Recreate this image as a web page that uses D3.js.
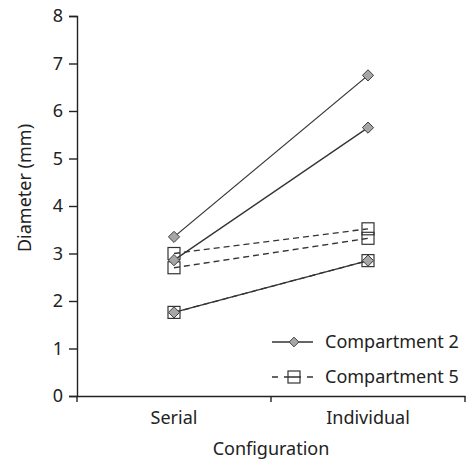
<!DOCTYPE html>
<html>
<head>
<meta charset="utf-8">
<script src="https://cdn.jsdelivr.net/npm/d3@7"></script>
<style>
  body { margin: 0; background: #fff; }
  text { font-family: "Noto Sans", "Open Sans", sans-serif; fill: #222; }
</style>
</head>
<body>
<div id="chart"></div>
<script>
// Chart data
var categories = ["Serial", "Individual"];
var yTicks = [0, 1, 2, 3, 4, 5, 6, 7, 8];
var comp2Series = [
    [3.35, 6.75],
    [2.86, 5.65],
    [1.76, 2.85]
];
var comp5Series = [
    [3.0, 3.52],
    [2.7, 3.32],
    [1.76, 2.85]
];
var legendNames = ["Compartment 2", "Compartment 5"];

var svgWidth = 468;
var svgHeight = 460;

var margin = { top: 16, right: 3, bottom: 64, left: 77 };
var width = svgWidth - margin.left - margin.right;
var height = svgHeight - margin.top - margin.bottom;

var svg = d3.select("#chart")
    .append("svg")
    .attr("width", svgWidth)
    .attr("height", svgHeight);

var chartGroup = svg.append("g")
    .attr("transform", `translate(${margin.left}, ${margin.top})`);

var xScale = d3.scaleBand()
    .domain(categories)
    .range([0, width])
    .padding(0);

var yScale = d3.scaleLinear()
    .domain([0, 8])
    .range([height, 0]);

// y axis
var leftAxis = d3.axisLeft(yScale)
    .tickValues(yTicks)
    .tickSize(8)
    .tickPadding(6)
    .tickFormat(d3.format("d"));

var yAxisG = chartGroup.append("g").call(leftAxis);
yAxisG.selectAll("text").attr("font-size", "18px").attr("fill", "#222");
yAxisG.selectAll("line, path").attr("stroke", "#222").attr("stroke-width", 1.4);

// x axis (ticks at category boundaries)
var bottomAxis = d3.axisBottom(xScale).tickSize(0).tickPadding(15);
var xAxisG = chartGroup.append("g")
    .attr("transform", `translate(0, ${height})`)
    .call(bottomAxis);
xAxisG.select(".domain").attr("stroke", "#222").attr("stroke-width", 1.4);
xAxisG.selectAll("text").attr("font-size", "18px").attr("fill", "#222");

var bounds = categories.map(c => xScale(c)).concat([width]);
xAxisG.selectAll(".bound")
    .data(bounds)
    .enter()
    .append("line")
    .attr("class", "bound")
    .attr("x1", d => d)
    .attr("x2", d => d)
    .attr("y1", 0)
    .attr("y2", 6)
    .attr("stroke", "#222")
    .attr("stroke-width", 1.4);

// axis titles
chartGroup.append("text")
    .attr("transform", "rotate(-90)")
    .attr("x", -172)
    .attr("y", 25 - margin.left)
    .attr("dy", "0.35em")
    .attr("text-anchor", "middle")
    .attr("font-size", "18px")
    .text("Diameter (mm)");

chartGroup.append("text")
    .attr("x", width / 2)
    .attr("y", height + 59)
    .attr("text-anchor", "middle")
    .attr("font-size", "18px")
    .text("Configuration");

var cx = i => xScale(categories[i]) + xScale.bandwidth() / 2;

var line = d3.line()
    .x((d, i) => cx(i))
    .y(d => yScale(d));

var diamond = d3.symbol().type(d3.symbolDiamond2).size(80);

// Compartment 5: dashed lines, open squares
chartGroup.selectAll(".c5line")
    .data(comp5Series)
    .enter()
    .append("path")
    .attr("class", "c5line")
    .attr("d", line)
    .attr("fill", "none")
    .attr("stroke", "#333")
    .attr("stroke-width", 1.3)
    .attr("stroke-dasharray", "6,4");

// Compartment 2: solid lines, grey diamonds
chartGroup.selectAll(".c2line")
    .data(comp2Series)
    .enter()
    .append("path")
    .attr("class", "c2line")
    .attr("d", line)
    .attr("fill", "none")
    .attr("stroke", "#333")
    .attr("stroke-width", 1.3);

comp5Series.forEach(function(s) {
    chartGroup.append("g").selectAll("rect")
        .data(s)
        .enter()
        .append("rect")
        .attr("x", (d, i) => cx(i) - 6)
        .attr("y", d => yScale(d) - 6)
        .attr("width", 12)
        .attr("height", 12)
        .attr("fill", "none")
        .attr("stroke", "#333")
        .attr("stroke-width", 1.2);
});

comp2Series.forEach(function(s) {
    chartGroup.append("g").selectAll("path")
        .data(s)
        .enter()
        .append("path")
        .attr("d", diamond)
        .attr("transform", (d, i) => `translate(${cx(i)}, ${yScale(d)})`)
        .attr("fill", "#a6a6a6")
        .attr("stroke", "#404040")
        .attr("stroke-width", 1);
});

// legend
var legend = svg.append("g").attr("transform", "translate(272, 342)");

legend.append("line")
    .attr("x1", 0).attr("x2", 41).attr("y1", 0).attr("y2", 0)
    .attr("stroke", "#333").attr("stroke-width", 1.3);
legend.append("path")
    .attr("d", d3.symbol().type(d3.symbolDiamond2).size(60))
    .attr("transform", "translate(22, 0)")
    .attr("fill", "#a6a6a6").attr("stroke", "#404040");
legend.append("text")
    .attr("x", 53).attr("y", 0).attr("dy", "0.35em")
    .attr("font-size", "18px")
    .text(legendNames[0]);

legend.append("line")
    .attr("x1", 0).attr("x2", 41).attr("y1", 35).attr("y2", 35)
    .attr("stroke", "#333").attr("stroke-width", 1.3)
    .attr("stroke-dasharray", "6,6,17,6,6");
legend.append("rect")
    .attr("x", 16).attr("y", 29).attr("width", 12).attr("height", 12)
    .attr("fill", "none").attr("stroke", "#333").attr("stroke-width", 1.2);
legend.append("text")
    .attr("x", 53).attr("y", 35).attr("dy", "0.35em")
    .attr("font-size", "18px")
    .text(legendNames[1]);
</script>
</body>
</html>
